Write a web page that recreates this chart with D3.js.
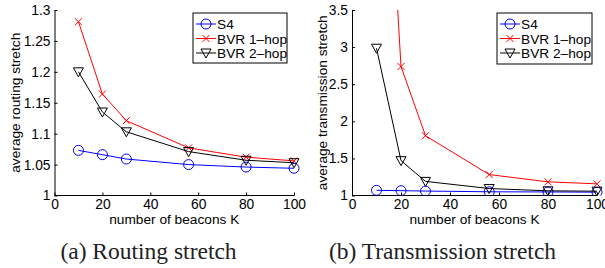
<!DOCTYPE html>
<html lang="en">
<head>
<meta charset="UTF-8">
<title>Routing and transmission stretch</title>
<script src="https://d3js.org/d3.v7.min.js"></script>
<style>
  body { margin: 0; background: #fff; }
  svg text { font-family: "Liberation Sans", Arial, sans-serif; }
  .caption { font-family: "Liberation Serif", "Times New Roman", serif !important; }
</style>
</head>
<body>
<script>
  // Data
  const beacons = [10, 20, 30, 56, 80, 100];
  const seriesNames = ["S4", "BVR 1–hop", "BVR 2–hop"];

  const routingS4 = [1.073, 1.066, 1.059, 1.050, 1.046, 1.044];
  const routingBvr1 = [1.281, 1.164, 1.121, 1.077, 1.062, 1.056];
  const routingBvr2 = [1.200, 1.135, 1.103, 1.071, 1.057, 1.053];

  const transS4 = [1.07, 1.065, 1.06, 1.05, 1.048, 1.045];
  const transBvr1 = [8.4, 2.738, 1.806, 1.282, 1.184, 1.157];
  const transBvr2 = [2.985, 1.47, 1.19, 1.094, 1.063, 1.058];

  const xTicks = [0, 20, 40, 60, 80, 100];
  const routingTicks = [1, 1.05, 1.1, 1.15, 1.2, 1.25, 1.3];
  const transTicks = [1, 1.5, 2, 2.5, 3, 3.5];

  const colors = ["#0000ff", "#ff0000", "#000000"];
  const markers = ["circle", "cross", "triangle"];

  const w = 605, h = 268;
  const svg = d3.select("body").append("svg")
    .attr("width", w)
    .attr("height", h);

  const panels = [
    {
      id: "a", left: 54.5, right: 294, top: 10, bottom: 195.5,
      yDomain: [1, 1.3], yTicks: routingTicks, yLabel: "average routing stretch", yLabelX: 20,
      series: [routingS4, routingBvr1, routingBvr2],
      legend: { x: 193, y: 13, w: 94, h: 50 },
      caption: "(a) Routing stretch", captionX: 148.5
    },
    {
      id: "b", left: 352, right: 597, top: 10, bottom: 195.5,
      yDomain: [1, 3.5], yTicks: transTicks, yLabel: "average transmission stretch", yLabelX: 327,
      series: [transS4, transBvr1, transBvr2],
      legend: { x: 497, y: 13, w: 95, h: 51 },
      caption: "(b) Transmission stretch", captionX: 442.5
    }
  ];

  function drawMarker(g, type, color) {
    if (type === "circle") {
      g.append("circle").attr("r", 5).attr("fill", "none").attr("stroke", color).attr("stroke-width", 1);
    } else if (type === "cross") {
      g.append("path").attr("d", "M-3.5,-3.5L3.5,3.5M-3.5,3.5L3.5,-3.5")
        .attr("stroke", color).attr("stroke-width", 1).attr("fill", "none");
    } else {
      g.append("path").attr("d", "M-5,-4L5,-4L0,5Z")
        .attr("stroke", color).attr("stroke-width", 1).attr("fill", "none");
    }
  }

  panels.forEach(p => {
    const x = d3.scaleLinear().domain([0, 100]).range([p.left, p.right]);
    const y = d3.scaleLinear().domain(p.yDomain).range([p.bottom, p.top]);

    const clipId = "clip-" + p.id;
    svg.append("clipPath").attr("id", clipId)
      .append("rect")
      .attr("x", p.left).attr("y", p.top)
      .attr("width", p.right - p.left + 10).attr("height", p.bottom - p.top);

    // axes
    const xAxis = d3.axisBottom(x).tickValues(xTicks).tickSizeInner(-3).tickSizeOuter(0).tickPadding(4);
    const gx = svg.append("g").attr("transform", `translate(0,${p.bottom})`).call(xAxis);
    gx.select(".domain").attr("d", `M${p.left},0H${p.right}`);

    const yAxis = d3.axisLeft(y).tickValues(p.yTicks).tickFormat(d3.format("~g"))
      .tickSizeInner(-3).tickSizeOuter(0).tickPadding(4);
    const gy = svg.append("g").attr("transform", `translate(${p.left},0)`).call(yAxis);

    [gx, gy].forEach(g => {
      g.selectAll("text").attr("font-size", 13.8).attr("fill", "#000");
      g.selectAll("line").attr("stroke", "#000");
      g.select(".domain").attr("stroke", "#000");
    });

    svg.append("text")
      .attr("x", (p.left + p.right) / 2).attr("y", 224)
      .attr("text-anchor", "middle").attr("font-size", 13.7)
      .text("number of beacons K");

    svg.append("text")
      .attr("transform", `translate(${p.yLabelX},${(p.top + p.bottom) / 2}) rotate(-90)`)
      .attr("text-anchor", "middle").attr("font-size", 13.7)
      .text(p.yLabel);

    // lines and markers
    const plot = svg.append("g").attr("clip-path", `url(#${clipId})`);
    const line = d3.line().x((d, i) => x(beacons[i])).y(d => y(d));
    p.series.forEach((vals, s) => {
      plot.append("path").datum(vals)
        .attr("d", line).attr("fill", "none")
        .attr("stroke", colors[s]).attr("stroke-width", 1);
      vals.forEach((v, i) => {
        const g = plot.append("g").attr("transform", `translate(${x(beacons[i])},${y(v)})`);
        drawMarker(g, markers[s], colors[s]);
      });
    });

    // legend
    const L = p.legend;
    const lg = svg.append("g").attr("transform", `translate(${L.x},${L.y})`);
    lg.append("rect").attr("width", L.w).attr("height", L.h)
      .attr("fill", "#fff").attr("stroke", "#000").attr("stroke-width", 1);
    seriesNames.forEach((name, s) => {
      const yy = 11 + s * 14.5;
      lg.append("line").attr("x1", 3).attr("x2", 23).attr("y1", yy).attr("y2", yy)
        .attr("stroke", colors[s]).attr("stroke-width", 1);
      drawMarker(lg.append("g").attr("transform", `translate(13,${yy})`), markers[s], colors[s]);
      lg.append("text").attr("x", 24).attr("y", yy + 5)
        .attr("font-size", 13.7).text(name);
    });

    svg.append("text").attr("class", "caption")
      .attr("x", p.captionX).attr("y", 259)
      .attr("text-anchor", "middle").attr("font-size", 23.5).attr("fill", "#222")
      .text(p.caption);
  });
</script>
</body>
</html>
